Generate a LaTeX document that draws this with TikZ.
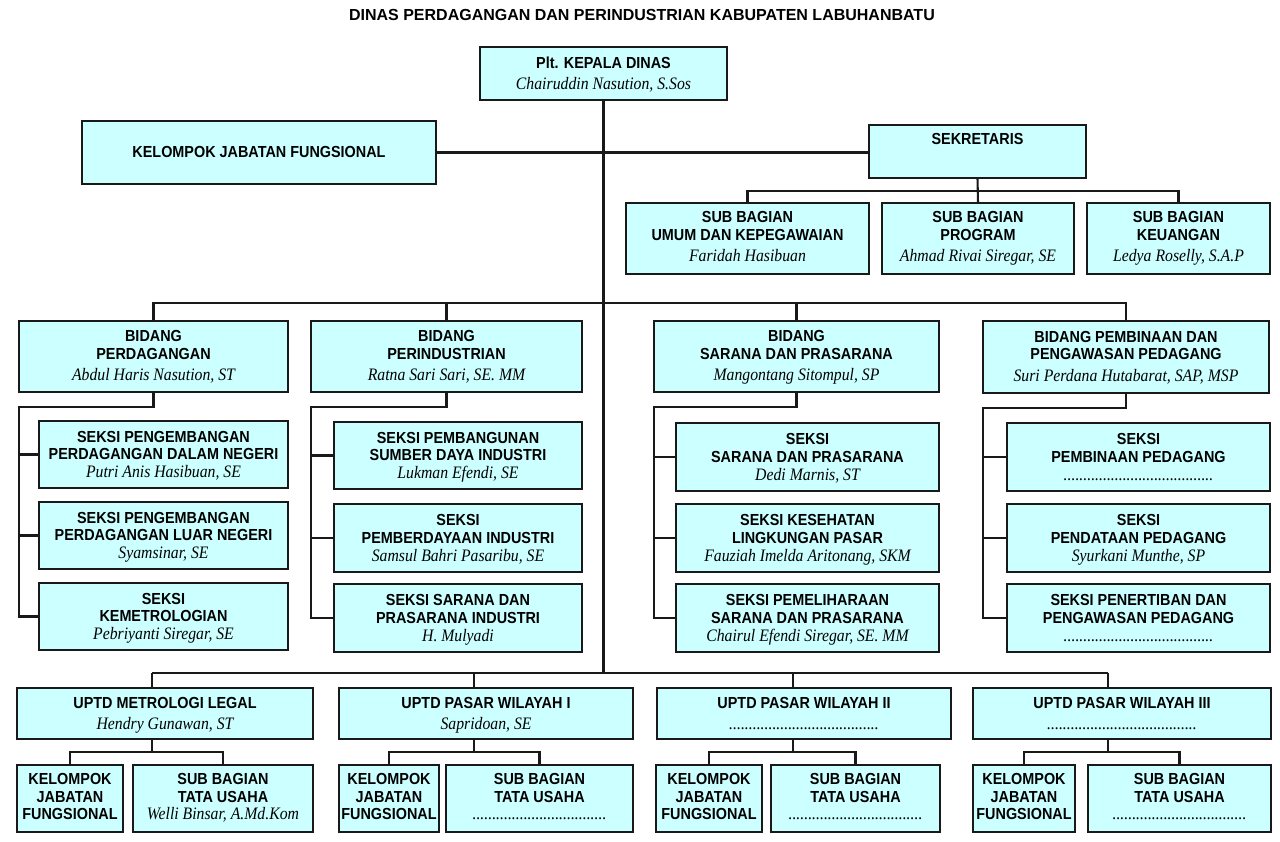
\documentclass[tikz,border=0pt]{standalone}
\usepackage{fontspec}
\setmainfont{Liberation Sans}[FakeStretch=0.9]
\newfontfamily\titlefam{Liberation Sans}
\newfontfamily\namefam{Liberation Serif}[FakeStretch=0.9]
\definecolor{boxfill}{HTML}{CCFFFF}
\newcommand\tb[1]{\begin{tabular}{@{}c@{}}#1\end{tabular}}
\newcommand\fr[1]{\rule{0pt}{#1pt}}
\newcommand\pname[2][3.3pt]{\\[#1]{\namefam\itshape\mdseries\fontsize{17.5}{17.5}\selectfont #2}}
\newcommand\dotsA{......................................}
\newcommand\dotsB{..................................}
\newcommand\bx[6]{\node[box, minimum width={(#4-#2)*1pt}, minimum height={(#5-#3)*1pt}]
  (#1) at ({(#2+#4)/2},{(#3+#5)/2}) {\tb{#6}};}
\tikzset{
  box/.style={draw=black!90, line width=2pt, fill=boxfill, inner sep=0pt, outer sep=0pt,
    font=\fontsize{16}{17.5}\selectfont\bfseries},
  ln/.style={draw=black!90, line width=2.1pt},
}
\begin{document}
\begin{tikzpicture}[x=1pt,y=-1pt]
\useasboundingbox (0,0) rectangle (1280,842);
\node[font=\titlefam\bfseries\fontsize{16}{18}\selectfont] (title) at (642,15) {DINAS PERDAGANGAN DAN PERINDUSTRIAN KABUPATEN LABUHANBATU};

\bx{kd}{480}{47}{727}{100}{\fr{15.6}Plt. KEPALA DINAS\pname{Chairuddin Nasution, S.Sos}}
\bx{kjf}{82}{121}{436}{184}{\fr{16.25}KELOMPOK JABATAN FUNGSIONAL}
\bx{sek}{869}{125}{1086}{178}{SEKRETARIS\\[4pt]\mbox{}}
\bx{sb1}{626}{203}{869}{274}{SUB BAGIAN\\UMUM DAN KEPEGAWAIAN\pname{Faridah Hasibuan}}
\bx{sb2}{882}{203}{1074}{274}{SUB BAGIAN\\PROGRAM\pname{Ahmad Rivai Siregar, SE}}
\bx{sb3}{1087}{203}{1270}{274}{SUB BAGIAN\\KEUANGAN\pname{Ledya Roselly, S.A.P}}

\bx{b1}{19}{321}{288}{392}{\fr{14.5}BIDANG\\PERDAGANGAN\pname[3.8pt]{Abdul Haris Nasution, ST}}
\bx{b2}{311}{321}{582}{392}{\fr{14.5}BIDANG\\PERINDUSTRIAN\pname[3.8pt]{Ratna Sari Sari, SE. MM}}
\bx{b3}{654}{321}{939}{392}{\fr{14.5}BIDANG\\SARANA DAN PRASARANA\pname[3.8pt]{Mangontang Sitompul, SP}}
\bx{b4}{983}{321}{1269}{393}{\fr{14.5}BIDANG PEMBINAAN DAN\\PENGAWASAN PEDAGANG\pname[3.8pt]{Suri Perdana Hutabarat, SAP, MSP}}

\bx{s11}{39}{421}{288}{488}{\fr{16}SEKSI PENGEMBANGAN\\PERDAGANGAN DALAM NEGERI\pname[0.6pt]{Putri Anis Hasibuan, SE}}
\bx{s12}{39}{502}{288}{569}{\fr{16}SEKSI PENGEMBANGAN\\PERDAGANGAN LUAR NEGERI\pname[0.6pt]{Syamsinar, SE}}
\bx{s13}{39}{583}{288}{650}{\fr{16}SEKSI\\KEMETROLOGIAN\pname[0.6pt]{Pebriyanti Siregar, SE}}

\bx{s21}{334}{422}{582}{489}{\fr{16}SEKSI PEMBANGUNAN\\SUMBER DAYA INDUSTRI\pname[0.6pt]{Lukman Efendi, SE}}
\bx{s22}{334}{504}{582}{572}{\fr{16}SEKSI\\PEMBERDAYAAN INDUSTRI\pname[0.6pt]{Samsul Bahri Pasaribu, SE}}
\bx{s23}{334}{584}{582}{652}{\fr{16}SEKSI SARANA DAN\\PRASARANA INDUSTRI\pname[0.6pt]{H. Mulyadi}}

\bx{s31}{676}{423}{939}{491}{\fr{16}SEKSI\\SARANA DAN PRASARANA\pname[0.6pt]{Dedi Marnis, ST}}
\bx{s32}{676}{504}{939}{572}{\fr{16}SEKSI KESEHATAN\\LINGKUNGAN PASAR\pname[0.6pt]{Fauziah Imelda Aritonang, SKM}}
\bx{s33}{676}{584}{939}{652}{\fr{16}SEKSI PEMELIHARAAN\\SARANA DAN PRASARANA\pname[0.6pt]{Chairul Efendi Siregar, SE. MM}}

\bx{s41}{1007}{423}{1270}{491}{\fr{16}SEKSI\\PEMBINAAN PEDAGANG\pname[0.6pt]{\dotsA}}
\bx{s42}{1007}{504}{1270}{572}{\fr{16}SEKSI\\PENDATAAN PEDAGANG\pname[0.6pt]{Syurkani Munthe, SP}}
\bx{s43}{1007}{584}{1270}{652}{\fr{16}SEKSI PENERTIBAN DAN\\PENGAWASAN PEDAGANG\pname[0.6pt]{\dotsA}}

\bx{u1}{17}{688}{313}{739}{\fr{16.5}UPTD METROLOGI LEGAL\pname[4.2pt]{Hendry Gunawan, ST}}
\bx{u2}{339}{688}{633}{739}{\fr{16.5}UPTD PASAR WILAYAH I\pname[4.2pt]{Sapridoan, SE}}
\bx{u3}{657}{688}{951}{739}{\fr{16.5}UPTD PASAR WILAYAH II\pname[4.2pt]{\dotsA}}
\bx{u4}{973}{688}{1271}{739}{\fr{16.5}UPTD PASAR WILAYAH III\pname[4.2pt]{\dotsA}}

\bx{k1}{17}{765}{123}{832}{KELOMPOK\\JABATAN\\FUNGSIONAL}
\bx{t1}{133}{765}{313}{832}{SUB BAGIAN\\TATA USAHA\pname[-0.8pt]{Welli Binsar, A.Md.Kom}}
\bx{k2}{339}{765}{439}{832}{KELOMPOK\\JABATAN\\FUNGSIONAL}
\bx{t2}{446}{765}{633}{832}{SUB BAGIAN\\TATA USAHA\pname[-0.8pt]{\dotsB}}
\bx{k3}{656}{765}{762}{832}{KELOMPOK\\JABATAN\\FUNGSIONAL}
\bx{t3}{771}{765}{940}{832}{SUB BAGIAN\\TATA USAHA\pname[-0.8pt]{\dotsB}}
\bx{k4}{973}{765}{1075}{832}{KELOMPOK\\JABATAN\\FUNGSIONAL}
\bx{t4}{1088}{765}{1271}{832}{SUB BAGIAN\\TATA USAHA\pname[-0.8pt]{\dotsB}}

% connectors
\coordinate (d1) at (152,673);
\coordinate (d2) at (474,673);
\coordinate (d3) at (793,673);
\coordinate (d4) at (1108,673);

\draw[ln] (kd.south) -- (kd.south |- d1);
\draw[ln] (kjf.east) -- (kjf.east -| sek.west);
\draw[ln] (sek.south) -- (sb2.north);
\draw[ln] (sb1.north) -- ++(0,-12) -| (sb3.north);

\draw[ln] (b1.north) -- ++(0,-18) -| (b4.north);
\draw[ln] (b2.north) -- ++(0,-18);
\draw[ln] (b3.north) -- ++(0,-18);

\foreach \i in {1,2,3,4}{
  \draw[ln] (b\i.south) -- ++(0,15) -| (b\i.west |- s\i3.west) -- (s\i3.west);
  \draw[ln] (b\i.west |- s\i1.west) -- (s\i1.west);
  \draw[ln] (b\i.west |- s\i2.west) -- (s\i2.west);
}

\draw[ln] (d1) -- (d4);
\foreach \i in {1,2,3,4}{
  \draw[ln] (d\i) -- (d\i |- u\i.north);
  \draw[ln] (d\i |- u\i.south) -- ++(0,13);
  \draw[ln] (k\i.north) -- ++(0,-13) -| (t\i.north);
}
\end{tikzpicture}
\end{document}
